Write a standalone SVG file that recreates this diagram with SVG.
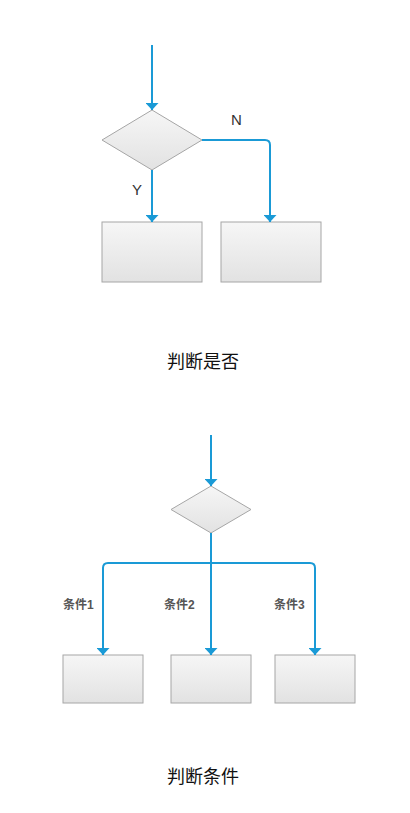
<svg xmlns="http://www.w3.org/2000/svg" width="410" height="813" viewBox="0 0 410 813">
<style>
.node{fill:url(#g);stroke:#a6a6a6;stroke-width:1}
.ln{fill:none;stroke:#1a9ad6;stroke-width:2}
.lbl{font-family:"Liberation Sans","Noto Sans CJK SC",sans-serif;font-size:15px;fill:#333}
.cl{font-family:"Liberation Sans","Noto Sans CJK SC",sans-serif;font-size:12px;font-weight:bold;fill:#555}
.cap{font-family:"Noto Sans CJK SC","Liberation Sans",sans-serif;font-size:18px;fill:#111;text-anchor:middle}
</style>
<defs>
<linearGradient id="g" x1="0" y1="0" x2="0" y2="1">
<stop offset="0" stop-color="#f6f6f6"/>
<stop offset="1" stop-color="#e2e2e2"/>
</linearGradient>
<marker id="b" markerWidth="8" markerHeight="13" refX="7" refY="6.5" markerUnits="userSpaceOnUse" orient="auto" viewBox="0 0 8 13">
<path d="M0,0 L7,6.5 L0,13 Z" fill="#1a9ad6"/>
</marker>
</defs>
<g id="d1"><polygon class="node" points="152,110 202,140 152,170 102,140"/></g>
<g id="b1"><rect class="node" x="102" y="222" width="100" height="60"/></g>
<g id="b2"><rect class="node" x="221" y="222" width="100" height="60"/></g>
<g id="d2"><polygon class="node" points="211,486 251,509.5 211,533 171,509.5"/></g>
<g id="b3"><rect class="node" x="63" y="655" width="80" height="48"/></g>
<g id="b4"><rect class="node" x="171" y="655" width="80" height="48"/></g>
<g id="b5"><rect class="node" x="275" y="655" width="80" height="48"/></g>
<g id="connectors">
<path class="ln" d="M152,45 V110" marker-end="url(#b)"/>
<path class="ln" d="M152,170 V222" marker-end="url(#b)"/>
<path class="ln" d="M202,140 H265 Q270,140 270,145 V222" marker-end="url(#b)"/>
<path class="ln" d="M211,435 V486" marker-end="url(#b)"/>
<path class="ln" d="M211,533 V655" marker-end="url(#b)"/>
<path class="ln" d="M211,563 H108 Q103,563 103,568 V655" marker-end="url(#b)"/>
<path class="ln" d="M211,563 H310 Q315,563 315,568 V655" marker-end="url(#b)"/>
</g>
<text class="lbl" x="231" y="125">N</text>
<text class="lbl" x="132" y="195">Y</text>
<text class="cl" x="63" y="609">条件1</text>
<text class="cl" x="164" y="609">条件2</text>
<text class="cl" x="274" y="609">条件3</text>
<text class="cap" x="203" y="368">判断是否</text>
<text class="cap" x="203" y="783">判断条件</text>
</svg>
